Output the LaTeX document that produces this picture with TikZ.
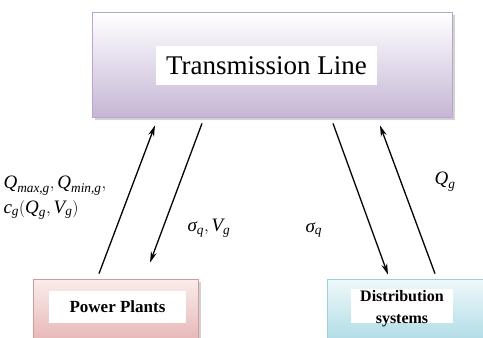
\documentclass[tikz,border=0pt]{standalone}
\usepackage{amsmath}
\usepackage{fontspec}
\setmainfont{Liberation Serif}
\usetikzlibrary{arrows.meta,positioning,shadows}
\definecolor{tlborder}{HTML}{B8A6CE}
\definecolor{tlfill}{HTML}{C6B6D6}
\definecolor{ppborder}{HTML}{D49A9A}
\definecolor{ppfill}{HTML}{E8B6B6}
\definecolor{dsborder}{HTML}{9CCFDE}
\definecolor{dsfill}{HTML}{B0DCE6}
\newcommand{\iv}[1]{\textit{#1}}
\tikzset{
  blk/.style={draw, line width=0.8pt, minimum width=165pt, minimum height=62pt,
    drop shadow={shadow xshift=3pt, shadow yshift=-3pt, fill=black!35}},
  txtbg/.style={fill=white, inner sep=0pt, align=center},
  flow/.style={-{Stealth[length=11pt,width=6pt]}, line width=1.3pt, draw=black},
  lbl/.style={font=\fontsize{19}{20}\selectfont, anchor=west},
}
\begin{document}
\begin{tikzpicture}[x=1pt, y=-1pt]
\useasboundingbox (0,0) rectangle (483,338);
\clip (0,0) rectangle (483,338);

% boxes
\node[blk, draw=tlborder, top color=white, bottom color=tlfill,
  minimum width=360pt, minimum height=105pt] (tl) at (272,64.5) {};
\node[txtbg, minimum width=221pt, minimum height=39pt,
  font=\fontsize{27}{30}\selectfont] (tl_txt) at (266.5,65.5) {Transmission Line};

\node[blk, draw=ppborder, top color=ppfill!25, bottom color=ppfill] (pp) at (115.5,310) {};
\node[txtbg, minimum width=137pt, minimum height=32pt,
  font=\bfseries\fontsize{17}{20}\selectfont] (pp_txt) at (117.5,307) {Power Plants};

\node[blk, draw=dsborder, top color=dsfill!20, bottom color=dsfill] (ds) at (410,310) {};
\node[txtbg, minimum width=102pt, minimum height=34pt] (ds_bg) at (402,306) {};
\node[align=center, font=\bfseries\fontsize{16}{22}\selectfont, inner sep=0pt] (ds_txt) at (402,309) {Distribution\\systems};

% connectors
\draw[flow] ([xshift=-16.5pt,yshift=5pt]pp.north) -- ([xshift=-117pt,yshift=-8pt]tl.south);
\draw[flow] ([xshift=-70pt,yshift=-6pt]tl.south) -- ([xshift=34.5pt,yshift=16pt]pp.north);
\draw[flow] ([xshift=61pt,yshift=-6pt]tl.south) -- ([xshift=-22pt,yshift=4pt]ds.north);
\draw[flow] ([xshift=25pt,yshift=5pt]ds.north) -- ([xshift=108pt,yshift=-8pt]tl.south);

% labels
\node[lbl] (l_qmax) at (0,186) {$\iv{Q}_{\iv{max,g}},\iv{Q}_{\iv{min,g}},$};
\node[lbl] (l_cg) at (0,210) {$\iv{c}_{\iv{g}}(\iv{Q}_{\iv{g}},\iv{V}_{\iv{g}})$};
\node[lbl] (l_sv) at (184,228) {$\iv{σ}_{\iv{q}},\iv{V}_{\iv{g}}$};
\node[lbl] (l_sq) at (302,230) {$\iv{σ}_{\iv{q}}$};
\node[lbl] (l_qg) at (431,182) {$\iv{Q}_{\iv{g}}$};
\end{tikzpicture}
\end{document}
